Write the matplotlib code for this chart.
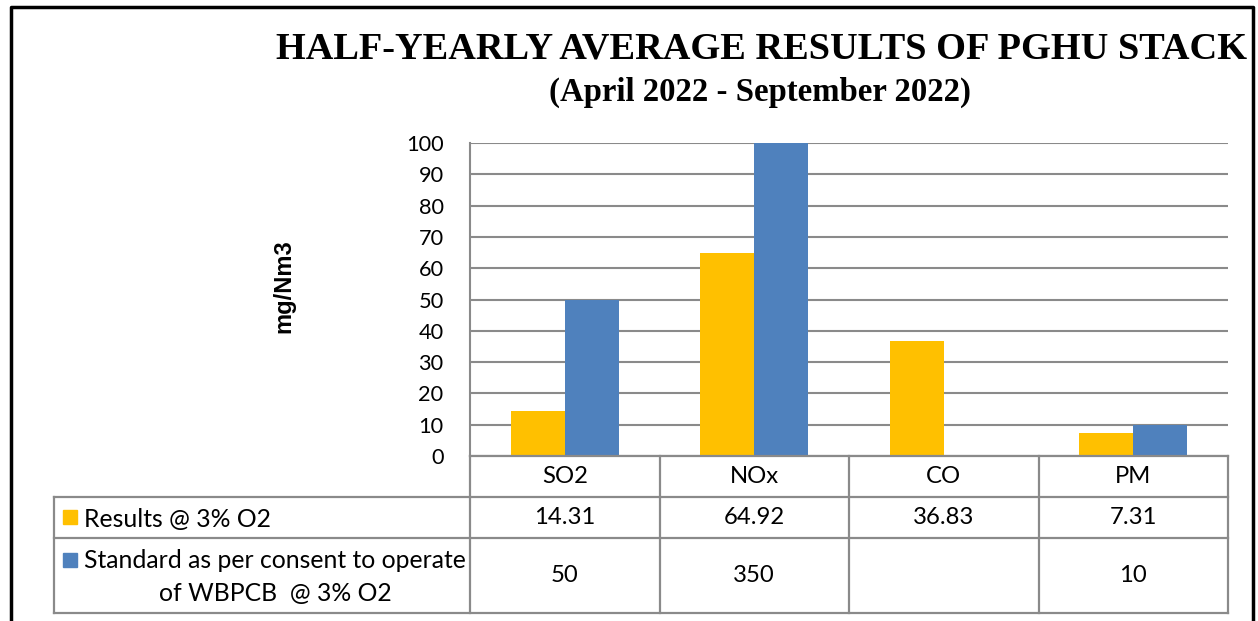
import numpy as np
import matplotlib
matplotlib.use('Agg')
import matplotlib.pyplot as plt
import matplotlib.transforms as mtransforms
from matplotlib.patches import Rectangle
from matplotlib.lines import Line2D

# chart data
categories = ['SO2', 'NOx', 'CO', 'PM']
results = [14.31, 64.92, 36.83, 7.31]
standard = [50, 350, None, 10]
series_labels = ['Results @ 3% O2',
                 'Standard as per consent to operate\nof WBPCB  @ 3% O2']
yticks = [0, 10, 20, 30, 40, 50, 60, 70, 80, 90, 100]

series_colors = ['#FFC000', '#4F81BD']
grid_grey = '#8a8a8a'
sans = ['Lato', 'DejaVu Sans']
serif = ['Liberation Serif', 'DejaVu Serif']
num_size = 17.2
label_size = 17.8

W, H = 1258., 621.
def fx(px):
  return px / W
def fy(py):
  return 1. - py / H

fig = plt.figure(figsize=(12.58, 6.21), dpi=100)
ax = fig.add_axes([fx(470), fy(456), fx(1228) - fx(470), fy(143) - fy(456)])

x = np.arange(len(categories))
w = 0.285
std_vals = [np.nan if v is None else v for v in standard]
ax.bar(x - w/2, results, w, color=series_colors[0], zorder=3)
ax.bar(x + w/2, std_vals, w, color=series_colors[1], zorder=3)

ax.set_xlim(-0.5, len(categories) - 0.5)
ax.set_ylim(0, 100)
ax.set_yticks(yticks)
ax.set_yticklabels([str(t) for t in yticks], fontfamily=sans, fontsize=15.7)
ax.tick_params(axis='y', length=0, pad=19)
ax.set_xticks([])
ax.yaxis.grid(True, color=grid_grey, lw=1.5, zorder=0)
ax.set_axisbelow(True)
for s in ['top', 'right', 'bottom']:
  ax.spines[s].set_visible(False)
ax.spines['left'].set_color(grid_grey)
ax.spines['left'].set_linewidth(1.5)

# data table under the axis
blend = mtransforms.blended_transform_factory(ax.transData, fig.transFigure)
row_edges = [fy(456), fy(497), fy(538), fy(613)]
col_edges = list(np.arange(len(categories) + 1) - 0.5)
tab_left = fx(54)
lw_tab = 1.6

for ce in col_edges:
  fig.add_artist(Line2D([ce, ce], [row_edges[0], row_edges[-1]],
                        transform=blend, color=grid_grey, lw=lw_tab))
fig.add_artist(Line2D([col_edges[0], col_edges[-1]], [row_edges[0]] * 2,
                      transform=blend, color=grid_grey, lw=lw_tab))
right_fig = fig.transFigure.inverted().transform(
  ax.transData.transform((col_edges[-1], 0)))[0]
for re in row_edges[1:]:
  fig.add_artist(Line2D([tab_left, right_fig], [re, re],
                        transform=fig.transFigure, color=grid_grey, lw=lw_tab))
fig.add_artist(Line2D([tab_left, tab_left], [row_edges[1], row_edges[-1]],
                      transform=fig.transFigure, color=grid_grey, lw=lw_tab))

def mid(i):
  return 0.5 * (row_edges[i] + row_edges[i + 1])

for i, c in enumerate(categories):
  fig.text(x[i], mid(0), c, transform=blend, ha='center', va='center',
           fontfamily=sans, fontsize=num_size)
  fig.text(x[i], mid(1), '%.2f' % results[i], transform=blend,
           ha='center', va='center', fontfamily=sans, fontsize=num_size)
  s = '' if standard[i] is None else str(standard[i])
  fig.text(x[i], mid(2), s, transform=blend, ha='center', va='center',
           fontfamily=sans, fontsize=num_size)

# row labels with legend keys
fig.add_artist(Rectangle((fx(63), fy(524)), fx(14), fy(510) - fy(524),
                         transform=fig.transFigure, color=series_colors[0]))
fig.text(fx(84), fy(517), series_labels[0], ha='left', va='center_baseline',
         fontfamily=sans, fontsize=label_size)
fig.add_artist(Rectangle((fx(63), fy(567)), fx(14), fy(553) - fy(567),
                         transform=fig.transFigure, color=series_colors[1]))
std_lines = series_labels[1].split('\n')
fig.text(fx(275), fy(559), std_lines[0], ha='center', va='center_baseline',
         fontfamily=sans, fontsize=label_size)
fig.text(fx(275), fy(592), std_lines[1], ha='center', va='center_baseline',
         fontfamily=sans, fontsize=label_size)

# titles
fig.text(fx(761), fy(49), 'HALF-YEARLY AVERAGE RESULTS OF PGHU STACK',
         ha='center', va='center', fontfamily=serif, fontweight='bold',
         fontsize=27.6)
fig.text(fx(760), fy(92), '(April 2022 - September 2022)',
         ha='center', va='center', fontfamily=serif, fontweight='bold',
         fontsize=23.6)
fig.text(fx(284), fy(286), 'mg/Nm3', rotation=90, ha='center', va='center',
         fontfamily=['Liberation Sans', 'DejaVu Sans'], fontweight='bold',
         fontsize=17)

# outer frame of the chart box
fig.add_artist(Line2D([fx(11), fx(11), fx(1253), fx(1253)],
                      [0, fy(7), fy(7), 0], transform=fig.transFigure,
                      color='black', lw=2.5))

fig.savefig('out.png', dpi=100)
